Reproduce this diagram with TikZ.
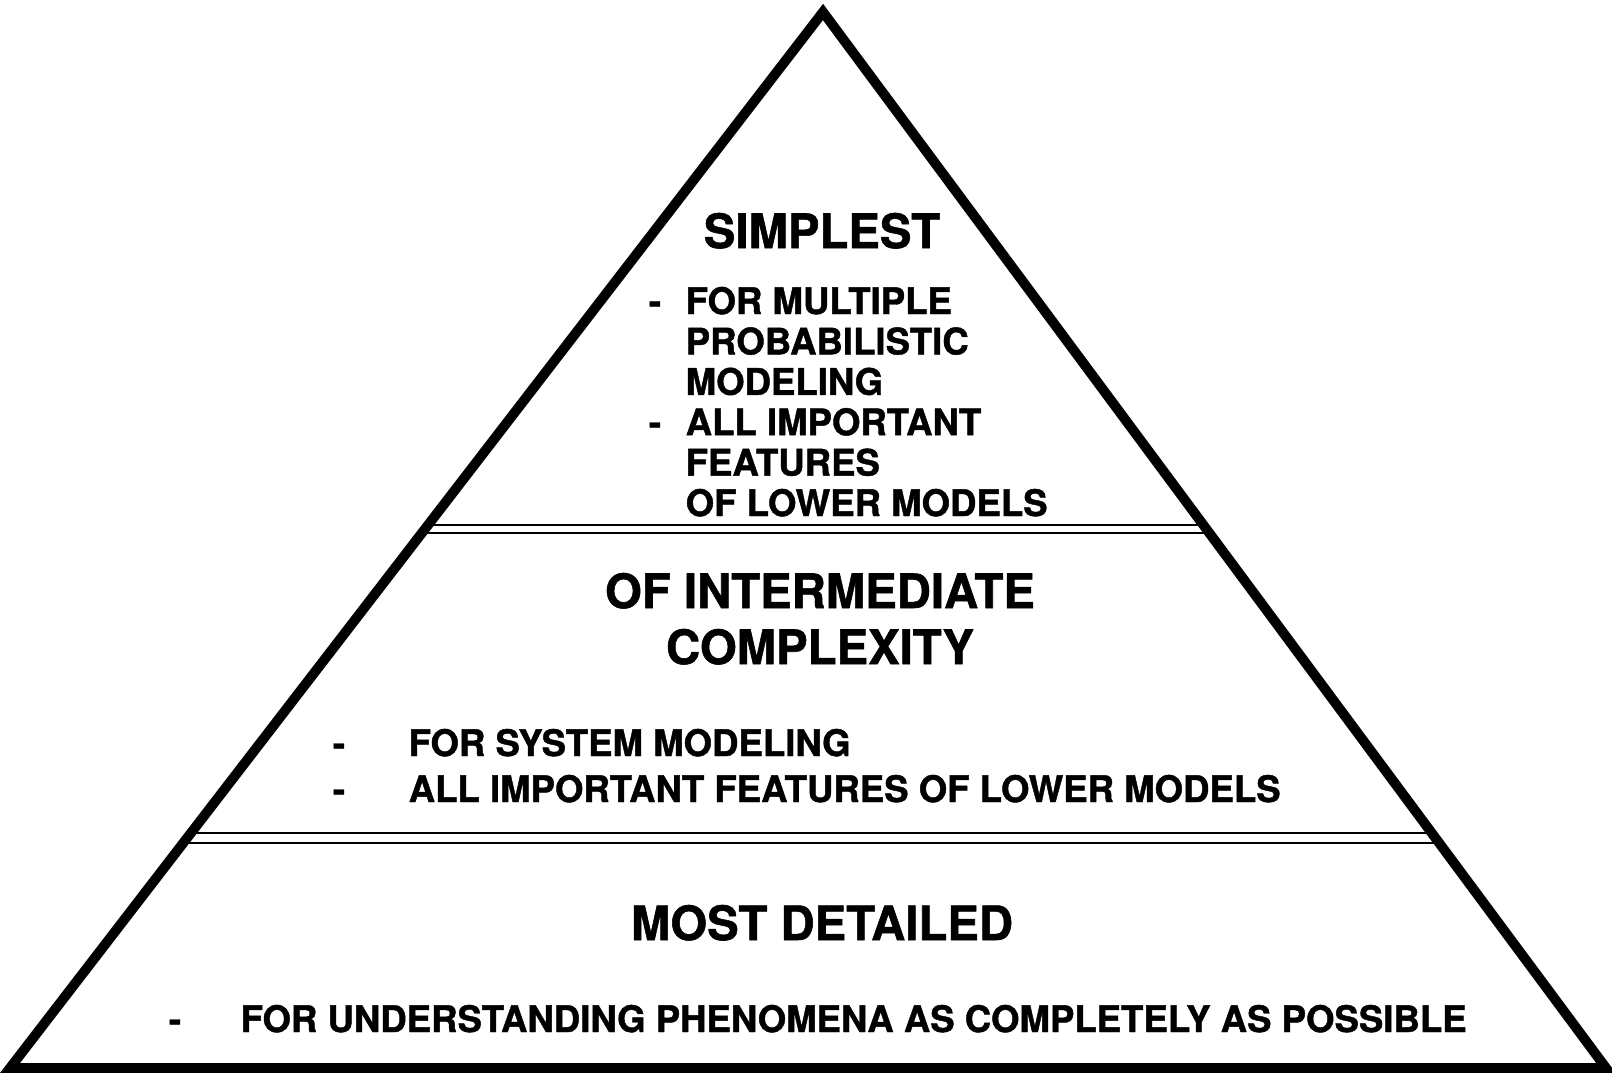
\documentclass[tikz,border=0pt]{standalone}
\usepackage{fontspec}
\setmainfont{TeX Gyre Heros}[BoldFeatures={FakeBold=1.2}]
\usetikzlibrary{calc}
\tikzstyle{heading} = [font=\bfseries\fontsize{13.45}{16}\selectfont, inner sep=0pt, anchor=base]
\tikzstyle{entry} = [font=\bfseries\fontsize{10.4}{12}\selectfont, inner sep=0pt, anchor=base west]
\tikzstyle{bullet} = [font=\bfseries\fontsize{10.4}{12}\selectfont, inner sep=0pt, anchor=base]
\tikzstyle{border} = [line width=0.57pt, double, double distance=1.7pt]

\begin{document}
\begin{tikzpicture}[x=0.01cm, y=-0.01cm]
    \useasboundingbox (0,0) rectangle (1612,1075);
    \coordinate (apex) at (823,12);
    \coordinate (left) at (10,1068);
    \coordinate (right) at (1606,1068);
    % layer borders
    \draw[border] ($(apex)!0.4896!(left)$) -- ($(apex)!0.4896!(right)$);
    \draw[border, double distance=2.3pt] ($(apex)!0.7822!(left)$) -- ($(apex)!0.7822!(right)$);
    \draw[line width=2.8pt, line join=miter] (apex) -- (left) -- (right) -- cycle;
    % top layer
    \node[heading] (simplest) at (822,248) {SIMPLEST};
    \node[bullet] (b1) at (655,314) {-};
    \node[bullet] (b2) at (655,435) {-};
    \foreach \txt [count=\i from 0] in {FOR MULTIPLE, PROBABILISTIC, MODELING, ALL IMPORTANT, FEATURES, OF LOWER MODELS}
        \node[entry] (top\i) at (685,314+40.4*\i) {\txt};
    % middle layer
    \node[heading] (inter) at (820,608) {OF INTERMEDIATE};
    \node[heading] (complex) at (820,664) {COMPLEXITY};
    \node[bullet] (b3) at (339,756) {-};
    \node[bullet] (b4) at (339,802) {-};
    \node[entry] (sys) at (408,756) {FOR SYSTEM MODELING};
    \node[entry] (feat) at (408,802) {ALL IMPORTANT FEATURES OF LOWER MODELS};
    % bottom layer
    \node[heading] (detail) at (822,940) {MOST DETAILED};
    \node[bullet] (b5) at (175,1032) {-};
    \node[entry] (under) at (240,1032) {FOR UNDERSTANDING PHENOMENA AS COMPLETELY AS POSSIBLE};
\end{tikzpicture}
\end{document}
